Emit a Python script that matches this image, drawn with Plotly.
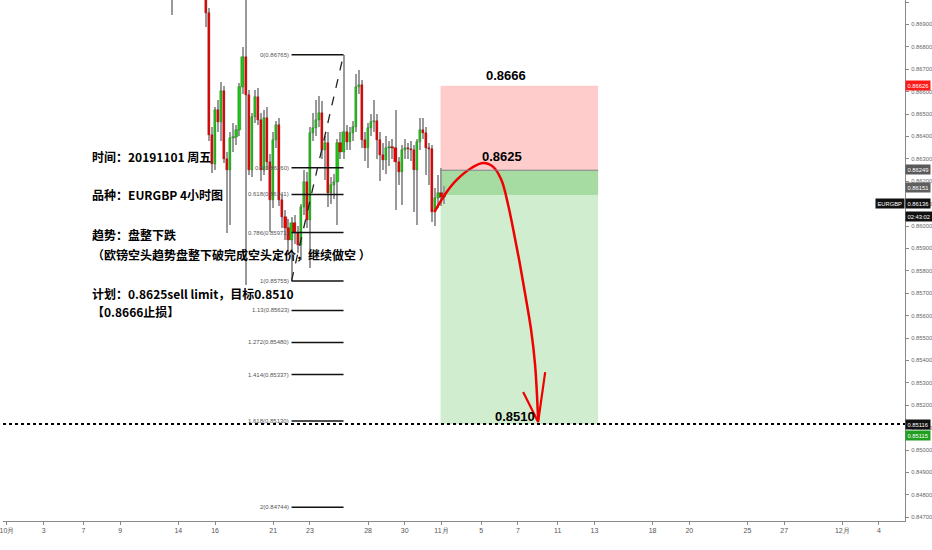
import plotly.graph_objects as go

# ---------------- data ----------------
bar_index = list(range(54, 144))
opens = [0.87140, 0.87100, 0.87310, 0.87420, 0.87550, 0.87500, 0.87610, 0.87700, 0.87540, 0.87350,
         0.87180, 0.87120, 0.86951, 0.86406, 0.86277, 0.86518, 0.86464, 0.86603, 0.86299, 0.86250,
         0.86393, 0.86397, 0.86429, 0.86621, 0.86755, 0.86585, 0.86250, 0.86487, 0.86576, 0.86473,
         0.86250, 0.86482, 0.86286, 0.86116, 0.86384, 0.86451, 0.86116, 0.86040, 0.85991, 0.85938,
         0.86014, 0.85969, 0.85915, 0.86085, 0.86197, 0.86027, 0.86415, 0.86438, 0.86473, 0.86505,
         0.86339, 0.86371, 0.86147, 0.86183, 0.86197, 0.86371, 0.86330, 0.86420, 0.86375, 0.86415,
         0.86442, 0.86621, 0.86630, 0.86384, 0.86348, 0.86438, 0.86464, 0.86469, 0.86384, 0.86317,
         0.86295, 0.86348, 0.86353, 0.86350, 0.86286, 0.86241, 0.86339, 0.86348, 0.86344, 0.86339,
         0.86250, 0.86375, 0.86429, 0.86415, 0.86348, 0.86344, 0.86063, 0.86125, 0.86147, 0.86130]
highs = [0.87230, 0.87350, 0.87480, 0.87600, 0.87710, 0.87660, 0.87790, 0.87820, 0.87600, 0.87410,
         0.87250, 0.87160, 0.86975, 0.86440, 0.86531, 0.86563, 0.86643, 0.86625, 0.86330, 0.86420,
         0.86460, 0.86451, 0.86638, 0.86800, 0.87100, 0.86607, 0.86505, 0.86607, 0.86616, 0.86505,
         0.86518, 0.86531, 0.86320, 0.86420, 0.86469, 0.86480, 0.86140, 0.86070, 0.86030, 0.86040,
         0.86050, 0.86000, 0.86100, 0.86250, 0.86240, 0.86440, 0.86505, 0.86563, 0.86580, 0.86560,
         0.86400, 0.86420, 0.86220, 0.86230, 0.86390, 0.86420, 0.86765, 0.86450, 0.86440, 0.86470,
         0.86680, 0.86697, 0.86650, 0.86420, 0.86460, 0.86500, 0.86563, 0.86500, 0.86420, 0.86370,
         0.86400, 0.86380, 0.86390, 0.86518, 0.86310, 0.86360, 0.86390, 0.86370, 0.86380, 0.86360,
         0.86390, 0.86482, 0.86480, 0.86440, 0.86370, 0.86360, 0.86170, 0.86228, 0.86259, 0.86180]
lows = [0.86942, 0.87050, 0.87250, 0.87360, 0.87450, 0.87380, 0.87520, 0.87490, 0.87280, 0.87120,
        0.87060, 0.86888, 0.86380, 0.86237, 0.86250, 0.86420, 0.86380, 0.86281, 0.85969, 0.86005,
        0.86330, 0.86362, 0.86402, 0.86590, 0.85737, 0.86228, 0.86219, 0.86460, 0.86451, 0.86201,
        0.86228, 0.86250, 0.85973, 0.86080, 0.86350, 0.86090, 0.85991, 0.85938, 0.85880, 0.85755,
        0.85920, 0.85880, 0.85848, 0.86050, 0.85991, 0.85813, 0.86380, 0.86400, 0.86440, 0.86299,
        0.86205, 0.86085, 0.86100, 0.86120, 0.86005, 0.86300, 0.86300, 0.86340, 0.86340, 0.86380,
        0.86420, 0.86590, 0.86348, 0.86290, 0.86259, 0.86400, 0.86420, 0.86299, 0.86201, 0.86250,
        0.86230, 0.86270, 0.86300, 0.86072, 0.86183, 0.86094, 0.86300, 0.86300, 0.86290, 0.86063,
        0.86005, 0.86340, 0.86390, 0.86228, 0.86183, 0.86018, 0.86000, 0.86080, 0.86090, 0.86100]
closes = [0.87100, 0.87310, 0.87420, 0.87550, 0.87500, 0.87610, 0.87700, 0.87540, 0.87350, 0.87180,
          0.87120, 0.86951, 0.86406, 0.86277, 0.86518, 0.86464, 0.86603, 0.86299, 0.86250, 0.86393,
          0.86397, 0.86429, 0.86621, 0.86755, 0.86585, 0.86250, 0.86487, 0.86576, 0.86473, 0.86250,
          0.86482, 0.86286, 0.86116, 0.86384, 0.86451, 0.86116, 0.86040, 0.85991, 0.85938, 0.86014,
          0.85969, 0.85915, 0.86085, 0.86197, 0.86027, 0.86415, 0.86438, 0.86473, 0.86505, 0.86339,
          0.86371, 0.86147, 0.86183, 0.86197, 0.86371, 0.86330, 0.86420, 0.86375, 0.86415, 0.86442,
          0.86621, 0.86630, 0.86384, 0.86348, 0.86438, 0.86464, 0.86469, 0.86384, 0.86317, 0.86295,
          0.86348, 0.86353, 0.86350, 0.86286, 0.86241, 0.86339, 0.86348, 0.86344, 0.86339, 0.86250,
          0.86375, 0.86429, 0.86415, 0.86348, 0.86344, 0.86063, 0.86125, 0.86147, 0.86130, 0.86136]

# x-axis date ticks (bar index of 4h bars)
tick_index = [0, 12, 25, 37, 56, 68, 87, 99, 118, 130, 142, 155, 167, 180, 192, 211, 223, 242, 254, 273, 285]
tick_text = ["10月", "3", "7", "9", "14", "16", "21", "23", "28", "30", "11月", "5", "7", "11", "13",
             "18", "20", "25", "27", "12月", "4"]

# Fibonacci extension tool
fib_start, fib_end = 93, 110
fib_ratios = ["0", "0.5", "0.618", "0.786", "1", "1.13", "1.272", "1.414", "1.618", "2"]
fib_prices = [0.86765, 0.86260, 0.86141, 0.85971, 0.85755, 0.85623, 0.85480, 0.85337, 0.85130, 0.84744]

# short position tool
pos_start, pos_end = 141.7, 193.2
stop_price, entry_price, current_price, target_price = 0.86626, 0.86249, 0.86136, 0.85115
hline_price = 0.85116

# hand-drawn red arrow (bar index, price)
arrow_x = [139.7, 143.6, 146.9, 151.8, 155.7, 159.0, 161.6, 163.8, 165.5, 167.4, 169.4, 171.3, 172.6, 173.6]
arrow_y = [0.86063, 0.86150, 0.86205, 0.86259, 0.86281, 0.86263, 0.86205, 0.86094, 0.85982, 0.85848,
           0.85693, 0.85536, 0.85380, 0.85134]
head_x = [168.7, 173.6, 175.9]
head_y = [0.85259, 0.85125, 0.85348]

x_range = [-1.3, 293.5]
y_range = [0.84683, 0.87009]

# ---------------- figure ----------------
fig = go.Figure()

# wicks
fig.add_trace(go.Bar(
    x=bar_index, base=lows, y=[h - l for h, l in zip(highs, lows)], width=0.34,
    marker=dict(color="#9a9a9a", line=dict(width=0)), hoverinfo="skip", showlegend=False))

# bodies
body_base = [min(o, c) for o, c in zip(opens, closes)]
body_len = [max(abs(c - o), 0.00003) for o, c in zip(opens, closes)]
body_col = ["#22c41a" if c >= o else "#f20000" for o, c in zip(opens, closes)]
edge_col = ["#1a6d12" if c >= o else "#7a0000" for o, c in zip(opens, closes)]
fig.add_trace(go.Bar(
    x=bar_index, base=body_base, y=body_len, width=0.72,
    marker=dict(color=body_col, line=dict(color=edge_col, width=0.4)),
    hoverinfo="skip", showlegend=False))

# arrow curve
fig.add_trace(go.Scatter(x=arrow_x, y=arrow_y, mode="lines",
                         line=dict(color="#f00000", width=2.5, shape="spline", smoothing=1.0),
                         hoverinfo="skip", showlegend=False))
fig.add_trace(go.Scatter(x=head_x, y=head_y, mode="lines",
                         line=dict(color="#f00000", width=2.2),
                         hoverinfo="skip", showlegend=False))

shapes = []
# position tool zones
shapes.append(dict(type="rect", xref="x", yref="y", x0=pos_start, x1=pos_end, y0=entry_price, y1=stop_price,
                   fillcolor="#ffcccc", line=dict(width=0), layer="below"))
shapes.append(dict(type="rect", xref="x", yref="y", x0=pos_start, x1=pos_end, y0=current_price, y1=entry_price,
                   fillcolor="#a6dca2", line=dict(width=0), layer="below"))
shapes.append(dict(type="rect", xref="x", yref="y", x0=pos_start, x1=pos_end, y0=target_price, y1=current_price,
                   fillcolor="#d1edcf", line=dict(width=0), layer="below"))
shapes.append(dict(type="line", xref="x", yref="y", x0=pos_start, x1=pos_end, y0=entry_price, y1=entry_price,
                   line=dict(color="#808080", width=1)))
# horizontal dotted line
shapes.append(dict(type="line", xref="paper", yref="y", x0=0, x1=1, y0=hline_price, y1=hline_price,
                   line=dict(color="#000000", width=2, dash="dot")))
# fib lines
for p in fib_prices:
    shapes.append(dict(type="line", xref="x", yref="y", x0=fib_start, x1=fib_end, y0=p, y1=p,
                       line=dict(color="#111111", width=1.5)))
shapes.append(dict(type="line", xref="x", yref="y", x0=fib_start, x1=fib_end,
                   y0=fib_prices[4], y1=fib_prices[0], line=dict(color="#222222", width=1.3, dash="dash")))

annotations = []
for r, p in zip(fib_ratios, fib_prices):
    annotations.append(dict(xref="x", yref="y", x=fib_start, y=p, text=f"{r}({p:.5f})", showarrow=False,
                            xanchor="right", yanchor="middle", xshift=-1,
                            font=dict(size=6, color="#555555", family="Liberation Sans")))

# left text block
text_lines = [
    ("时间：20191101 周五", 157),
    ("品种：EURGBP 4小时图", 195),
    ("趋势：盘整下跌", 234),
    ("（欧镑空头趋势盘整下破完成空头定价，继续做空 ）", 254),
    ("计划：0.8625sell limit，目标0.8510", 293),
    ("【0.8666止损】", 311),
]
plot_w, plot_h = 905, 521
for t, py in text_lines:
    annotations.append(dict(xref="paper", yref="paper", x=87 / plot_w, y=1 - py / plot_h, text=f"<b>{t}</b>",
                            showarrow=False, xanchor="left", yanchor="middle",
                            font=dict(size=12, color="#000000", family="Noto Sans CJK SC")))

# price notes on chart
for t, px, py in [("0.8666", 505, 75), ("0.8625", 501, 156), ("0.8510", 514, 416)]:
    annotations.append(dict(xref="paper", yref="paper", x=px / plot_w, y=1 - py / plot_h, text=f"<b>{t}</b>",
                            showarrow=False, xanchor="center", yanchor="middle",
                            font=dict(size=13, color="#000000", family="Liberation Sans")))

# right-axis price labels
for txt, price, bg, ysh in [("0.86626", stop_price, "#ff1a1a", 0), ("0.86249", entry_price, "#5a5a5a", 1),
                            ("0.86151", 0.86151, "#5f5f5f", 5), ("0.86136", current_price, "#111111", -7.5),
                            ("02:43:02", current_price, "#111111", -20.5), ("0.85116", hline_price, "#111111", 0),
                            ("0.85115", target_price, "#1f9e1f", -11)]:
    annotations.append(dict(xref="paper", yref="y", x=1, y=price, text=txt, showarrow=False,
                            xanchor="left", yanchor="middle", xshift=0, yshift=ysh,
                            bgcolor=bg, borderpad=1.5,
                            font=dict(size=5.8, color="#ffffff", family="Liberation Sans")))
annotations.append(dict(xref="paper", yref="y", x=1, y=current_price, text="EURGBP", showarrow=False,
                        xanchor="right", yanchor="middle", xshift=0, yshift=-7.5, bgcolor="#111111",
                        borderpad=1.5, font=dict(size=5.8, color="#ffffff", family="Liberation Sans")))

fig.update_layout(
    width=932, height=550,
    margin=dict(l=0, r=27, t=0, b=29),
    paper_bgcolor="#ffffff", plot_bgcolor="#ffffff",
    barmode="overlay", bargap=0,
    showlegend=False,
    shapes=shapes, annotations=annotations,
    xaxis=dict(range=x_range, tickvals=tick_index, ticktext=tick_text, showgrid=False, zeroline=False,
               showline=True, linecolor="#888888", linewidth=1, ticks="outside", ticklen=3,
               tickcolor="#888888", tickfont=dict(size=7, color="#555555", family="Liberation Sans"),
               ticklabeloverflow="allow", fixedrange=True),
    yaxis=dict(range=y_range, side="right", dtick=0.001, tick0=0.847, tickformat=".5f", showgrid=False,
               zeroline=False, showline=True, linecolor="#888888", linewidth=1, ticks="outside",
               ticklen=3, tickcolor="#888888", ticklabelstandoff=1,
               tickfont=dict(size=5.8, color="#666666", family="Liberation Sans"), fixedrange=True),
)

fig.write_html("out.html", config={"displayModeBar": False},
               post_script="document.body.style.margin='0';document.body.style.overflow='hidden';")
